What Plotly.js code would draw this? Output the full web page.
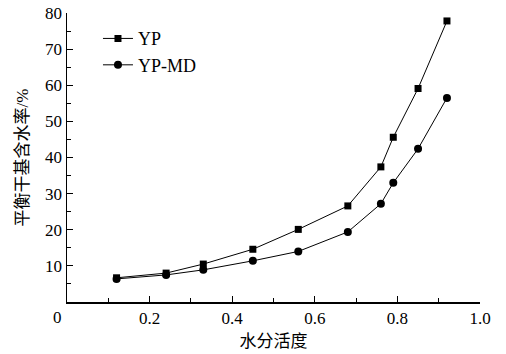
<!DOCTYPE html>
<html>
<head>
<meta charset="utf-8">
<script src="https://cdn.plot.ly/plotly-3.0.1.min.js"></script>
<style>html,body{margin:0;padding:0;background:#fff;}#chart{width:506px;height:354px;}</style>
</head>
<body>
<div id="chart"></div>
<script>
const waterActivity = [0.12, 0.24, 0.33, 0.45, 0.56, 0.68, 0.76, 0.79, 0.85, 0.92];
const ypValues = [6.7, 8.0, 10.5, 14.6, 20.1, 26.6, 37.4, 45.6, 59.1, 77.8];
const ypmdValues = [6.4, 7.5, 8.9, 11.4, 14.0, 19.4, 27.2, 33.0, 42.4, 56.5];
const xTickVals = [0.2, 0.4, 0.6, 0.8, 1.0];
const xTickText = ["0.2", "0.4", "0.6", "0.8", "1.0"];
const yTickVals = [10, 20, 30, 40, 50, 60, 70, 80];
const seriesNames = ["YP", "YP-MD"];

const fontFam = "Liberation Serif, Noto Sans CJK SC, serif";

const traces = [
  {x: waterActivity, y: ypValues, name: seriesNames[0], mode: "lines+markers",
   line: {color: "#000", width: 1}, marker: {symbol: "square", size: 7, color: "#000"}},
  {x: waterActivity, y: ypmdValues, name: seriesNames[1], mode: "lines+markers",
   line: {color: "#000", width: 1}, marker: {symbol: "circle", size: 8, color: "#000"}}
];

const layout = {
  width: 506, height: 354,
  margin: {l: 67, r: 26, t: 13, b: 52},
  paper_bgcolor: "#fff", plot_bgcolor: "#fff",
  font: {family: fontFam, size: 17, color: "#000"},
  showlegend: true,
  legend: {x: 0.075, y: 0.975, xanchor: "left", yanchor: "top", bgcolor: "rgba(0,0,0,0)",
           font: {family: fontFam, size: 18, color: "#000"}, tracegroupgap: 0, itemwidth: 30},
  xaxis: {
    range: [0, 1], tickvals: xTickVals, ticktext: xTickText,
    ticks: "inside", ticklen: 6, tickwidth: 1, tickcolor: "#000",
    minor: {dtick: 0.1, ticks: "inside", ticklen: 4, tickwidth: 1, tickcolor: "#000"},
    showline: true, linecolor: "#000", linewidth: 1.5, showgrid: false, zeroline: false,
    tickfont: {family: fontFam, size: 17},
    title: {text: "水分活度", font: {family: fontFam, size: 17}, standoff: 8}
  },
  yaxis: {
    range: [0, 80], tickvals: yTickVals,
    ticks: "inside", ticklen: 6, tickwidth: 1, tickcolor: "#000",
    minor: {dtick: 5, ticks: "inside", ticklen: 4, tickwidth: 1, tickcolor: "#000"},
    showline: true, linecolor: "#000", linewidth: 1.5, showgrid: false, zeroline: false,
    tickfont: {family: fontFam, size: 17},
    title: {text: "平衡干基含水率/%", font: {family: fontFam, size: 17}, standoff: 12}
  },
  annotations: [
    {text: "0", xref: "paper", yref: "paper", x: -0.022, y: -0.052, xanchor: "center", yanchor: "middle",
     showarrow: false, font: {family: fontFam, size: 17, color: "#000"}}
  ]
};

Plotly.newPlot("chart", traces, layout, {displayModeBar: false, staticPlot: true});
</script>
</body>
</html>
